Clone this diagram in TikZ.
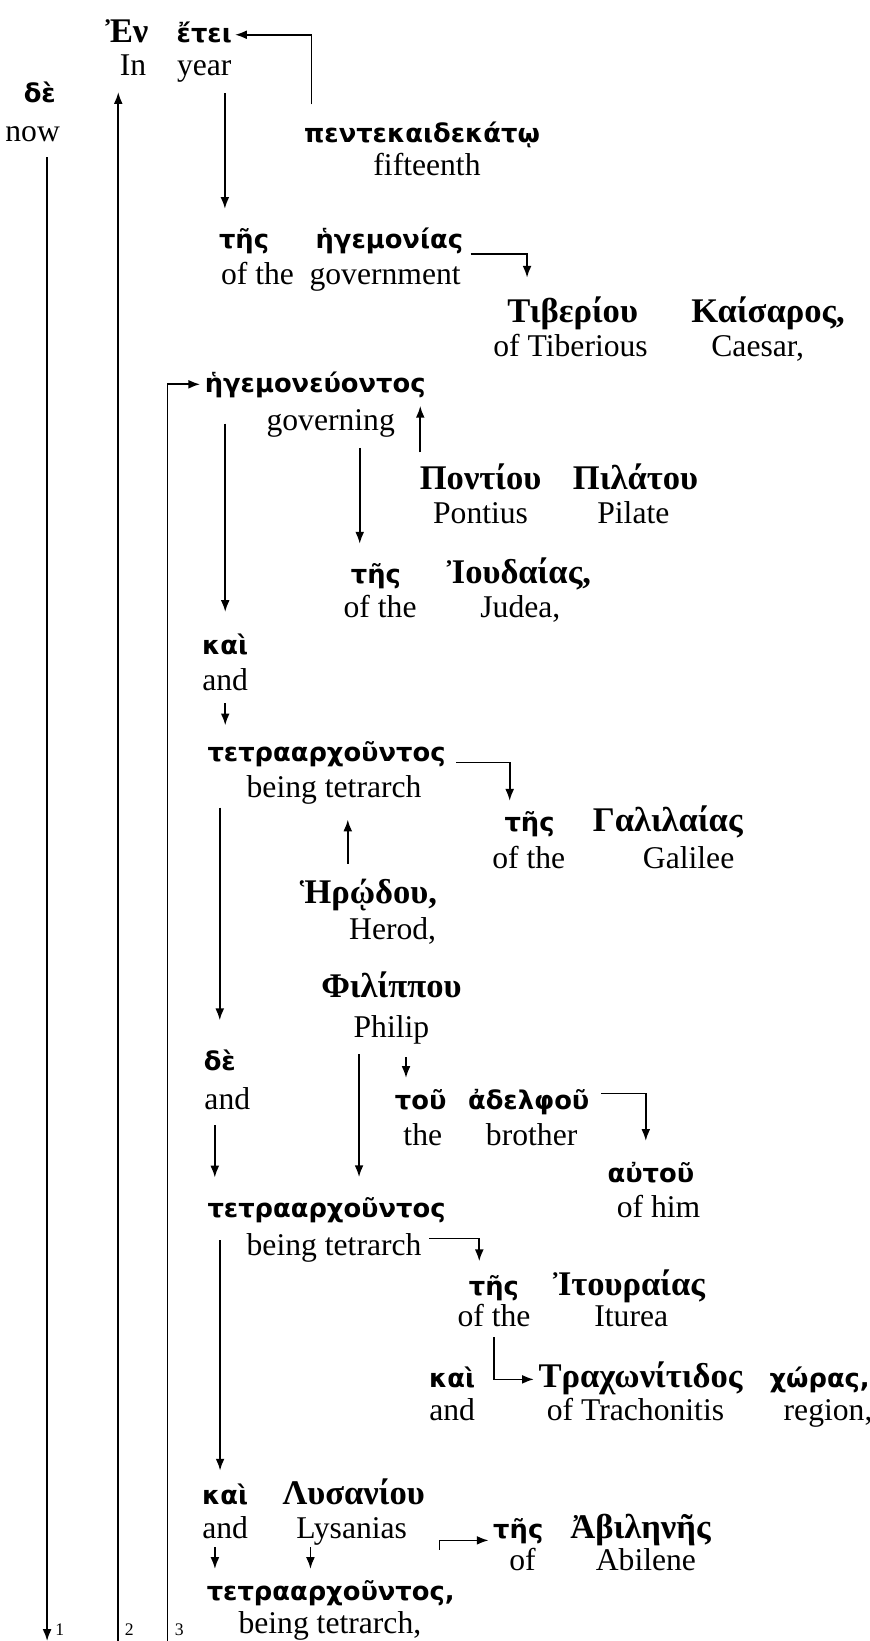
\documentclass[tikz,border=0pt]{standalone}
\usepackage{fontspec}
\setmainfont{Liberation Serif}
\newfontfamily\grkfont{DejaVu Sans}
\usetikzlibrary{arrows.meta, calc}

\begin{document}
\begin{tikzpicture}[
  gk/.style={font=\fontsize{17.5}{20}\selectfont\grkfont\bfseries, inner sep=0pt,
             text height=16pt, text depth=5pt},
  gkn/.style={font=\fontsize{23.5}{26}\selectfont\bfseries, inner sep=0pt,
              text height=16pt, text depth=5pt},
  gl/.style={font=\fontsize{21.5}{24}\selectfont, inner sep=0pt,
             text height=16pt, text depth=5pt},
  num/.style={font=\fontsize{12}{14}\selectfont, inner sep=0pt},
  arr/.style={-{Latex[length=8pt,width=6pt]}, line width=1.1pt}
]
\useasboundingbox (0,0) rectangle (20.775,-39.2);

% ── Row 0: Ἐν ἔτει / δὲ ──────────────────────────────────────────────────
\node[gkn] (en)   at (3.03,-0.83) {Ἐν};
\node[gl]  (in)   at (3.18,-1.60) {In};
\node[gk]  (etei) at (4.88,-0.83) {ἔτει};
\node[gl]  (year) at (4.88,-1.60) {year};
\node[gk]  (de1)  at (0.95,-2.25) {δὲ};
\node[gl]  (now)  at (0.78,-3.18) {now};

\node[gk] (pente)     at (10.08,-3.20) {πεντεκαιδεκάτῳ};
\node[gl] (fifteenth) at (10.20,-4.00) {fifteenth};

% ── τῆς ἡγεμονίας Τιβερίου Καίσαρος ─────────────────────────────────────
\node[gk]  (tes1)        at (5.83,-5.75)  {τῆς};
\node[gl]  (ofthe1)      at (6.15,-6.60)  {of the};
\node[gk]  (hegemonias)  at (9.30,-5.75)  {ἡγεμονίας};
\node[gl]  (government)  at (9.20,-6.60)  {government};
\node[gkn] (tiberiou)    at (13.68,-7.50) {Τιβερίου};
\node[gl]  (oftiberious) at (13.63,-8.33) {of Tiberious};
\node[gkn] (kaisaros)    at (18.35,-7.50) {Καίσαρος,};
\node[gl]  (caesar)      at (18.10,-8.33) {Caesar,};

% ── ἡγεμονεύοντος Ποντίου Πιλάτου τῆς Ἰουδαίας ──────────────────────────
\node[gk]  (hegemoneuontos) at (7.53,-9.18)  {ἡγεμονεύοντος};
\node[gl]  (governing)      at (7.90,-10.10) {governing};
\node[gkn] (pontiou)        at (11.48,-11.50) {Ποντίου};
\node[gl]  (pontius)        at (11.48,-12.30) {Pontius};
\node[gkn] (pilatou)        at (15.18,-11.50) {Πιλάτου};
\node[gl]  (pilate)         at (15.13,-12.30) {Pilate};
\node[gk]  (tes2)           at (8.98,-13.75)  {τῆς};
\node[gl]  (ofthe2)         at (9.08,-14.55)  {of the};
\node[gkn] (ioudaias)       at (12.40,-13.75) {Ἰουδαίας,};
\node[gl]  (judea)          at (12.43,-14.55) {Judea,};

% ── καὶ τετρααρχοῦντος τῆς Γαλιλαίας Ἡρῴδου ─────────────────────────────
\node[gk]  (kai1)      at (5.38,-15.45)  {καὶ};
\node[gl]  (and1)      at (5.38,-16.30)  {and};
\node[gk]  (tetra1)    at (7.80,-18.00)  {τετρααρχοῦντος};
\node[gl]  (bt1)       at (7.98,-18.85)  {being tetrarch};
\node[gk]  (tes3)      at (12.65,-19.68) {τῆς};
\node[gl]  (ofthe3)    at (12.63,-20.55) {of the};
\node[gkn] (galilaias) at (15.95,-19.68) {Γαλιλαίας};
\node[gl]  (galilee)   at (16.45,-20.55) {Galilee};
\node[gkn] (herodou)   at (8.80,-21.38)  {Ἡρῴδου,};
\node[gl]  (herod)     at (9.38,-22.25)  {Herod,};

% ── Φιλίππου δὲ τοῦ ἀδελφοῦ αὐτοῦ τετρααρχοῦντος ────────────────────────
\node[gkn] (philippou) at (9.35,-23.63)  {Φιλίππου};
\node[gl]  (philip)    at (9.35,-24.58)  {Philip};
\node[gk]  (de2)       at (5.25,-25.38)  {δὲ};
\node[gl]  (and2)      at (5.43,-26.30)  {and};
\node[gk]  (tou)       at (10.05,-26.30) {τοῦ};
\node[gl]  (the)       at (10.10,-27.18) {the};
\node[gk]  (adelphou)  at (12.63,-26.30) {ἀδελφοῦ};
\node[gl]  (brother)   at (12.70,-27.18) {brother};
\node[gk]  (autou)     at (15.55,-28.05) {αὐτοῦ};
\node[gl]  (ofhim)     at (15.73,-28.88) {of him};
\node[gk]  (tetra2)    at (7.80,-28.88)  {τετρααρχοῦντος};
\node[gl]  (bt2)       at (7.98,-29.80)  {being tetrarch};

% ── τῆς Ἰτουραίας καὶ Τραχωνίτιδος χώρας ────────────────────────────────
\node[gk]  (tes4)          at (11.80,-30.75) {τῆς};
\node[gl]  (ofthe4)        at (11.80,-31.50) {of the};
\node[gkn] (itouraias)     at (15.03,-30.75) {Ἰτουραίας};
\node[gl]  (iturea)        at (15.08,-31.50) {Iturea};
\node[gk]  (kai2)          at (10.80,-32.95) {καὶ};
\node[gl]  (and3)          at (10.80,-33.75) {and};
\node[gkn] (trachonitidos) at (15.30,-32.95) {Τραχωνίτιδος};
\node[gl]  (oftrachonitis) at (15.18,-33.75) {of Trachonitis};
\node[gk]  (choras)        at (19.58,-32.95) {χώρας,};
\node[gl]  (region)        at (19.78,-33.75) {region,};

% ── καὶ Λυσανίου τῆς Ἀβιληνῆς τετρααρχοῦντος ────────────────────────────
\node[gk]  (kai3)     at (5.38,-35.75)  {καὶ};
\node[gl]  (and4)     at (5.38,-36.55)  {and};
\node[gkn] (lysaniou) at (8.45,-35.75)  {Λυσανίου};
\node[gl]  (lysanias) at (8.40,-36.55)  {Lysanias};
\node[gk]  (tes5)     at (12.38,-36.55) {τῆς};
\node[gl]  (of5)      at (12.48,-37.33) {of};
\node[gkn] (abilenes) at (15.30,-36.55) {Ἀβιληνῆς};
\node[gl]  (abilene)  at (15.43,-37.33) {Abilene};
\node[gk]  (tetra3)   at (7.90,-38.03)  {τετρααρχοῦντος,};
\node[gl]  (bt3)      at (7.88,-38.83)  {being tetrarch,};

% ── the three long lines and their numbers ─────────────────────────────
\coordinate (foot1) at (1.125,-39.2);
\coordinate (foot2) at (2.825,-39.2);
\coordinate (foot3) at (4.0,-39.2);
\node[num] (n1) at (1.43,-38.93) {1};
\node[num] (n2) at (3.09,-38.93) {2};
\node[num] (n3) at (4.28,-38.93) {3};

\draw[arr, shorten <=5.7pt] (now.south -| foot1) -- (foot1);
\draw[arr, shorten >=6.4pt] (foot2) -- (foot2 |- in.south);
\draw[arr, shorten >=3pt]   (foot3) |- (hegemoneuontos.west);

% ── Arrows: upper part ──────────────────────────────────────────────────
\draw[arr, shorten <=9.4pt, shorten >=2pt] ($(pente.north)+(-75pt,0)$) |- (etei.east);
\draw[arr, shorten <=7pt, shorten >=11pt] ($(year.south)+(14pt,0)$) -- ($(year.south |- tes1.north)+(14pt,0)$);
\draw[arr] ($(hegemonias.east)+(5pt,-9pt)$) -| ($(tiberiou.north)+(-31pt,14pt)$);
\draw[arr, shorten <=16pt, shorten >=13pt] (hegemoneuontos.south -| kai1.north) -- (kai1.north);
\draw[arr, shorten <=9pt, shorten >=4pt] ($(pontiou.north)+(-41pt,0)$) -- ($(pontiou.north |- hegemoneuontos.south)+(-41pt,0)$);
\draw[arr, shorten <=6.4pt, shorten >=11pt] ($(tes2.north |- governing.south)+(-11pt,0)$) -- ($(tes2.north)+(-11pt,0)$);

% ── Arrows: middle part ─────────────────────────────────────────────────
\draw[arr, shorten <=3.5pt, shorten >=8.5pt] (and1.south) -- (and1.south |- tetra1.north);
\draw[arr] ($(tetra1.east)+(7pt,-6pt)$) -| ($(tes3.north)+(-13.5pt,5pt)$);
\draw[arr, shorten <=10.7pt, shorten >=10pt] ($(herodou.north)+(-14pt,0)$) -- ($(herodou.north |- bt1.south)+(-14pt,0)$);
\draw[arr, shorten <=26pt, shorten >=18pt] (de2.north |- tetra1.south) -- (de2.north);
\draw[arr, shorten <=8.5pt, shorten >=5pt] ($(tou.north |- philip.south)+(-10pt,0)$) -- ($(tou.north)+(-10pt,0)$);
\draw[arr] ($(adelphou.east)+(8pt,5pt)$) -| ($(autou.north)+(-3.5pt,12pt)$);
\draw[arr, shorten <=6.4pt, shorten >=11pt] ($(philip.south)+(-22pt,0)$) -- ($(philip.south |- tetra2.north)+(-22pt,0)$);
\draw[arr, shorten <=5.7pt, shorten >=10.7pt] ($(and2.south)+(-8.5pt,0)$) -- ($(and2.south |- tetra2.north)+(-8.5pt,0)$);

% ── Arrows: lower part ──────────────────────────────────────────────────
\draw[arr] ($(bt2.east)+(5pt,6pt)$) -| ($(tes4.north)+(-10pt,7pt)$);
\draw[arr, shorten <=2pt, shorten >=3pt] (ofthe4.south) |- (trachonitidos.west);
\draw[arr, shorten <=10.7pt, shorten >=7pt] ($(kai3.north |- tetra2.south)+(-3.5pt,0)$) -- ($(kai3.north)+(-3.5pt,0)$);
\draw[arr, shorten <=1pt, shorten >=5pt] ($(and4.south)+(-7pt,0)$) -- ($(and4.south |- tetra3.north)+(-7pt,0)$);
\draw[arr, shorten <=1pt, shorten >=5pt] ($(lysanias.south)+(-28pt,0)$) -- ($(lysanias.south |- tetra3.north)+(-28pt,0)$);
\draw[arr, shorten >=3pt] ($(tetra3.north)+(74pt,18pt)$) |- ($(tes5.west)+(0,-7pt)$);

\end{tikzpicture}
\end{document}
